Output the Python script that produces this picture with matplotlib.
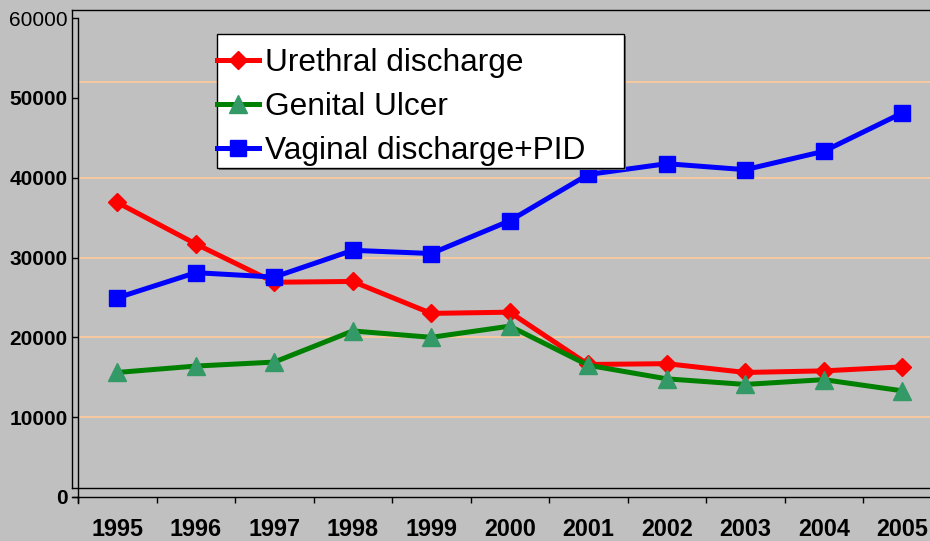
import numpy as np
import matplotlib.pyplot as plt
from matplotlib.lines import Line2D
from matplotlib.patches import Rectangle

# dane
years = ['1995', '1996', '1997', '1998', '1999', '2000', '2001', '2002', '2003', '2004', '2005']
urethral = [36900, 31700, 26900, 27000, 23000, 23150, 16600, 16700, 15600, 15800, 16300]
genital = [15600, 16400, 16900, 20800, 20000, 21400, 16500, 14800, 14100, 14700, 13300]
vaginal = [24950, 28100, 27550, 30900, 30500, 34600, 40400, 41750, 41000, 43300, 48100]
y_ticks = [0, 10000, 20000, 30000, 40000, 50000, 60000]
grid_values = [10000, 20000, 30000, 40000, 52000]

W, H = 930, 541
plt.rcParams['font.family'] = ['Liberation Sans', 'DejaVu Sans']

fig = plt.figure(figsize=(W / 100, H / 100), dpi=100, facecolor='#C0C0C0')

def px(x, y):
    # piksele -> współrzędne figury
    return x / W, 1 - y / H

ax_left, ax_top, ax_bottom = 78, 18, 497
ax_w = 11 * 78.5
ax = fig.add_axes([ax_left / W, 1 - ax_bottom / H, ax_w / W, (ax_bottom - ax_top) / H])
ax.set_facecolor('#C0C0C0')

x = np.arange(len(years))

# linie siatki
for g in grid_values:
    ax.axhline(g, color='#FFCC99', lw=1.2, zorder=1)

ax.plot(x, urethral, color='#FF0000', lw=3.6, marker='D', ms=9.5, mfc='#FF0000', mec='#FF0000',
        label='Urethral discharge', zorder=3)
ax.plot(x, genital, color='#008000', lw=3.6, marker='^', ms=13, mfc='#339966', mec='#339966',
        label='Genital Ulcer', zorder=4)
ax.plot(x, vaginal, color='#0000FF', lw=3.6, marker='s', ms=12, mfc='#0000FF', mec='#0000FF',
        label='Vaginal discharge+PID', zorder=5)

ax.set_xlim(-0.5, len(years) - 0.5)
ax.set_ylim(0, 60000)

for s in ['top', 'right']:
    ax.spines[s].set_visible(False)
for s in ['left', 'bottom']:
    ax.spines[s].set_color('black')
    ax.spines[s].set_linewidth(1)

ax.set_yticks(y_ticks)
ax.set_yticklabels([str(v) for v in y_ticks], fontsize=15, fontweight='bold')
ax.get_yticklabels()[-1].set_fontweight('normal')
ax.tick_params(axis='y', length=4.3, width=1, pad=3, colors='black')

ax.set_xticks(x)
ax.set_xticklabels(years, fontsize=16.8, fontweight='bold')
ax.set_xticks(np.arange(-0.5, len(years), 1), minor=True)
ax.tick_params(axis='x', which='major', length=0, pad=15)
ax.tick_params(axis='x', which='minor', length=4.3, width=1, colors='black')

# ramka tylnej ściany (efekt 3D)
frame = [((72, 10), (72, 488)), ((72, 10), (W + 5, 10)), ((72, 488), (W + 5, 488)),
         ((72, 497), (78, 497)), ((78, 497), (78, 503))]
for (x0, y0), (x1, y1) in frame:
    a, b = px(x0, y0)
    c, d = px(x1, y1)
    fig.add_artist(Line2D([a, c], [b, d], color='black', lw=1, transform=fig.transFigure))

# ramka legendy rysowana ręcznie
lx, ly = px(217, 168)
lx2, ly2 = px(624, 34)
sx, sy = px(219, 170)
fig.add_artist(Rectangle((sx, sy), lx2 - lx, ly2 - ly, transform=fig.transFigure,
                         facecolor='#707070', edgecolor='none', zorder=6))
fig.add_artist(Rectangle((lx, ly), lx2 - lx, ly2 - ly, transform=fig.transFigure,
                         facecolor='white', edgecolor='black', lw=1, zorder=7))

leg = ax.legend(loc='upper left', bbox_to_anchor=px(217, 48), bbox_transform=fig.transFigure,
                borderaxespad=0, borderpad=0, fontsize=22.8, handlelength=1.33,
                handletextpad=0.2, labelspacing=0.44, numpoints=1, frameon=False)
leg.set_zorder(8)
leg.remove()
fig.add_artist(leg)

fig.savefig('out.png', dpi=100, facecolor='#C0C0C0')
